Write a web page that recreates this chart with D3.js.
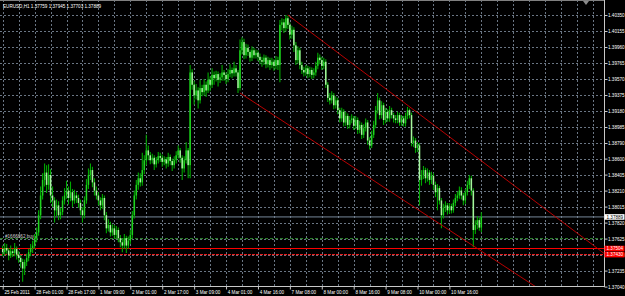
<!DOCTYPE html>
<html>
<head>
<meta charset="utf-8">
<script src="https://cdn.jsdelivr.net/npm/d3@7"></script>
<style>
  body { margin: 0; background: #000; }
  svg { display: block; }
  text { font-family: "Liberation Sans", Arial, sans-serif; }
</style>
</head>
<body>
<div id="chart"></div>
<script>
// EURUSD H1 bars, 25 Feb 2011 09:00 -> 10 Mar 2011
var opens = [
  1.3750,1.3746,1.3751,1.3748,1.3742,1.3747,1.3745,1.3750,1.3743,1.3739,
  1.3734,1.3726,1.3734,1.3739,1.3746,1.3751,1.3754,1.3763,1.3770,1.3791,
  1.3815,1.3834,1.3843,1.3828,1.3840,1.3815,1.3809,1.3797,1.3803,1.3791,
  1.3795,1.3809,1.3815,1.3821,1.3812,1.3819,1.3809,1.3815,1.3812,1.3806,
  1.3797,1.3791,1.3809,1.3828,1.3840,1.3846,1.3831,1.3821,1.3815,1.3809,
  1.3803,1.3812,1.3791,1.3775,1.3779,1.3770,1.3775,1.3767,1.3773,1.3763,
  1.3758,1.3754,1.3763,1.3754,1.3760,1.3767,1.3791,1.3815,1.3828,1.3836,
  1.3831,1.3846,1.3858,1.3870,1.3864,1.3858,1.3861,1.3853,1.3858,1.3863,
  1.3861,1.3856,1.3859,1.3854,1.3862,1.3857,1.3852,1.3858,1.3864,1.3870,
  1.3861,1.3848,1.3858,1.3870,1.3852,1.3965,1.3950,1.3937,1.3943,1.3931,
  1.3946,1.3941,1.3950,1.3943,1.3956,1.3950,1.3962,1.3958,1.3963,1.3956,
  1.3959,1.3965,1.3962,1.3957,1.3963,1.3968,1.3964,1.3970,1.3965,1.3946,
  1.3992,1.4002,1.3986,1.3995,1.3990,1.3983,1.3992,1.3986,1.3989,1.3984,
  1.3980,1.3978,1.3983,1.3975,1.3980,1.3974,1.3978,1.3973,1.3980,1.3974,
  1.4023,1.4026,1.4019,1.4031,1.4023,1.4011,1.4017,1.3998,1.3980,1.3992,
  1.3974,1.3968,1.3965,1.3970,1.3963,1.3968,1.3962,1.3965,1.3973,1.3983,
  1.3980,1.3973,1.3978,1.3950,1.3934,1.3931,1.3937,1.3925,1.3931,1.3919,
  1.3909,1.3917,1.3904,1.3912,1.3901,1.3907,1.3909,1.3900,1.3907,1.3895,
  1.3901,1.3889,1.3897,1.3904,1.3882,1.3876,1.3889,1.3901,1.3919,1.3931,
  1.3913,1.3925,1.3907,1.3917,1.3909,1.3919,1.3913,1.3909,1.3907,1.3913,
  1.3904,1.3909,1.3903,1.3912,1.3919,1.3913,1.3879,1.3882,1.3873,1.3876,
  1.3834,1.3840,1.3846,1.3836,1.3843,1.3834,1.3839,1.3828,1.3819,1.3824,
  1.3809,1.3791,1.3800,1.3803,1.3797,1.3802,1.3797,1.3806,1.3812,1.3815,
  1.3821,1.3815,1.3809,1.3819,1.3828,1.3836,1.3821,1.3773,1.3779,1.3785,
  1.37759
];
var highs = [
  1.3754,1.3757,1.3756,1.3751,1.3754,1.3750,1.3757,1.3753,1.3747,1.3742,
  1.3738,1.3737,1.3744,1.3750,1.3756,1.3760,1.3768,1.3776,1.3797,1.3826,
  1.3842,1.3854,1.3852,1.3853,1.3847,1.3826,1.3813,1.3810,1.3808,1.3800,
  1.3814,1.3824,1.3833,1.3826,1.3832,1.3823,1.3822,1.3819,1.3816,1.3810,
  1.3801,1.3814,1.3835,1.3848,1.3854,1.3850,1.3836,1.3826,1.3819,1.3813,
  1.3817,1.3815,1.3795,1.3786,1.3783,1.3780,1.3779,1.3778,1.3776,1.3767,
  1.3762,1.3768,1.3766,1.3765,1.3773,1.3796,1.3821,1.3834,1.3843,1.3842,
  1.3867,1.3864,1.3889,1.3876,1.3868,1.3866,1.3864,1.3862,1.3868,1.3867,
  1.3865,1.3863,1.3862,1.3867,1.3865,1.3860,1.3863,1.3869,1.3876,1.3873,
  1.3864,1.3863,1.3880,1.3873,1.3974,1.3969,1.3955,1.3951,1.3947,1.3956,
  1.3950,1.3957,1.3954,1.3965,1.3960,1.3970,1.3966,1.3967,1.3966,1.3964,
  1.3974,1.3968,1.3965,1.3969,1.3975,1.3971,1.3978,1.3974,1.3968,1.4005,
  1.4008,1.4006,1.4000,1.3999,1.3993,1.3997,1.3995,1.3993,1.3992,1.3988,
  1.3984,1.3987,1.3986,1.3984,1.3983,1.3983,1.3981,1.3985,1.3984,1.4029,
  1.4031,1.4030,1.4035,1.4034,1.4026,1.4022,1.4020,1.4002,1.3997,1.3995,
  1.3978,1.3972,1.3974,1.3973,1.3972,1.3971,1.3970,1.3978,1.3989,1.3987,
  1.3984,1.3983,1.3981,1.3953,1.3940,1.3942,1.3940,1.3936,1.3934,1.3922,
  1.3922,1.3920,1.3917,1.3915,1.3912,1.3914,1.3912,1.3912,1.3910,1.3906,
  1.3904,1.3902,1.3909,1.3907,1.3886,1.3894,1.3906,1.3924,1.3940,1.3934,
  1.3930,1.3928,1.3922,1.3920,1.3924,1.3922,1.3916,1.3913,1.3917,1.3916,
  1.3913,1.3912,1.3916,1.3923,1.3921,1.3916,1.3887,1.3885,1.3880,1.3879,
  1.3846,1.3851,1.3849,1.3848,1.3846,1.3844,1.3842,1.3832,1.3829,1.3827,
  1.3812,1.3805,1.3808,1.3806,1.3806,1.3805,1.3810,1.3817,1.3820,1.3826,
  1.3825,1.3818,1.3823,1.3833,1.3840,1.3839,1.3824,1.3785,1.3790,1.3788,
  1.37945
];
var lows = [
  1.3741,1.3742,1.3744,1.3736,1.3739,1.3740,1.3741,1.3737,1.3733,1.3727,
  1.3710,1.3718,1.3729,1.3735,1.3741,1.3745,1.3750,1.3758,1.3766,1.3786,
  1.3810,1.3826,1.3818,1.3822,1.3806,1.3801,1.3782,1.3790,1.3785,1.3786,
  1.3791,1.3804,1.3811,1.3804,1.3808,1.3801,1.3805,1.3806,1.3800,1.3791,
  1.3782,1.3787,1.3805,1.3823,1.3834,1.3825,1.3815,1.3810,1.3803,1.3797,
  1.3799,1.3785,1.3769,1.3771,1.3765,1.3766,1.3762,1.3763,1.3758,1.3752,
  1.3746,1.3750,1.3745,1.3750,1.3756,1.3763,1.3787,1.3810,1.3822,1.3826,
  1.3827,1.3841,1.3852,1.3858,1.3853,1.3854,1.3846,1.3849,1.3854,1.3856,
  1.3850,1.3852,1.3848,1.3850,1.3852,1.3845,1.3848,1.3854,1.3860,1.3855,
  1.3834,1.3843,1.3854,1.3836,1.3836,1.3944,1.3926,1.3932,1.3921,1.3927,
  1.3936,1.3937,1.3935,1.3940,1.3942,1.3946,1.3950,1.3954,1.3948,1.3952,
  1.3955,1.3955,1.3951,1.3953,1.3959,1.3958,1.3960,1.3960,1.3940,1.3943,
  1.3987,1.3981,1.3982,1.3985,1.3978,1.3979,1.3982,1.3982,1.3979,1.3975,
  1.3972,1.3974,1.3970,1.3971,1.3968,1.3970,1.3967,1.3969,1.3968,1.3953,
  1.4016,1.4013,1.4015,1.4018,1.4005,1.4006,1.3990,1.3974,1.3976,1.3969,
  1.3963,1.3960,1.3961,1.3958,1.3959,1.3957,1.3958,1.3961,1.3969,1.3975,
  1.3968,1.3969,1.3946,1.3929,1.3926,1.3927,1.3920,1.3921,1.3914,1.3904,
  1.3905,1.3899,1.3900,1.3896,1.3897,1.3903,1.3895,1.3896,1.3890,1.3891,
  1.3884,1.3885,1.3893,1.3877,1.3871,1.3873,1.3885,1.3897,1.3915,1.3908,
  1.3909,1.3901,1.3903,1.3905,1.3905,1.3909,1.3904,1.3903,1.3903,1.3900,
  1.3900,1.3899,1.3899,1.3908,1.3909,1.3875,1.3874,1.3867,1.3868,1.3803,
  1.3827,1.3835,1.3830,1.3832,1.3828,1.3829,1.3822,1.3813,1.3797,1.3804,
  1.3775,1.3787,1.3795,1.3792,1.3793,1.3793,1.3794,1.3802,1.3808,1.3811,
  1.3810,1.3803,1.3805,1.3815,1.3823,1.3815,1.3752,1.3768,1.3774,1.3772,
  1.37703
];
var closes = [
  1.3746,1.3751,1.3748,1.3742,1.3747,1.3745,1.3750,1.3743,1.3739,1.3734,
  1.3726,1.3734,1.3739,1.3746,1.3751,1.3754,1.3763,1.3770,1.3791,1.3815,
  1.3834,1.3843,1.3828,1.3840,1.3815,1.3809,1.3797,1.3803,1.3791,1.3795,
  1.3809,1.3815,1.3821,1.3812,1.3819,1.3809,1.3815,1.3812,1.3806,1.3797,
  1.3791,1.3809,1.3828,1.3840,1.3846,1.3831,1.3821,1.3815,1.3809,1.3803,
  1.3812,1.3791,1.3775,1.3779,1.3770,1.3775,1.3767,1.3773,1.3763,1.3758,
  1.3754,1.3763,1.3754,1.3760,1.3767,1.3791,1.3815,1.3828,1.3836,1.3831,
  1.3846,1.3858,1.3870,1.3864,1.3858,1.3861,1.3853,1.3858,1.3863,1.3861,
  1.3856,1.3859,1.3854,1.3862,1.3857,1.3852,1.3858,1.3864,1.3870,1.3861,
  1.3848,1.3858,1.3870,1.3852,1.3965,1.3950,1.3937,1.3943,1.3931,1.3946,
  1.3941,1.3950,1.3943,1.3956,1.3950,1.3962,1.3958,1.3963,1.3956,1.3959,
  1.3965,1.3962,1.3957,1.3963,1.3968,1.3964,1.3970,1.3965,1.3946,1.3992,
  1.4002,1.3986,1.3995,1.3990,1.3983,1.3992,1.3986,1.3989,1.3984,1.3980,
  1.3978,1.3983,1.3975,1.3980,1.3974,1.3978,1.3973,1.3980,1.3974,1.4023,
  1.4026,1.4019,1.4031,1.4023,1.4011,1.4017,1.3998,1.3980,1.3992,1.3974,
  1.3968,1.3965,1.3970,1.3963,1.3968,1.3962,1.3965,1.3973,1.3983,1.3980,
  1.3973,1.3978,1.3950,1.3934,1.3931,1.3937,1.3925,1.3931,1.3919,1.3909,
  1.3917,1.3904,1.3912,1.3901,1.3907,1.3909,1.3900,1.3907,1.3895,1.3901,
  1.3889,1.3897,1.3904,1.3882,1.3876,1.3889,1.3901,1.3919,1.3931,1.3913,
  1.3925,1.3907,1.3917,1.3909,1.3919,1.3913,1.3909,1.3907,1.3913,1.3904,
  1.3909,1.3903,1.3912,1.3919,1.3913,1.3879,1.3882,1.3873,1.3876,1.3834,
  1.3840,1.3846,1.3836,1.3843,1.3834,1.3839,1.3828,1.3819,1.3824,1.3809,
  1.3791,1.3800,1.3803,1.3797,1.3802,1.3797,1.3806,1.3812,1.3815,1.3821,
  1.3815,1.3809,1.3819,1.3828,1.3836,1.3821,1.3773,1.3779,1.3785,1.37759,
  1.37889
];

// price scale labels (right) and time labels (bottom, every 16 bars)
var priceTicks = [1.40350,1.40155,1.39960,1.39765,1.39570,1.39375,1.39180,1.38985,1.38790,
                  1.38600,1.38405,1.38210,1.38015,1.37820,1.37625,1.37430,1.37235,1.37040];
var timeLabels = ["25 Feb 2011","28 Feb 01:00","28 Feb 17:00","1 Mar 09:00","2 Mar 01:00",
                  "2 Mar 17:00","3 Mar 09:00","4 Mar 01:00","4 Mar 16:00","7 Mar 08:00",
                  "8 Mar 00:00","8 Mar 16:00","9 Mar 08:00","10 Mar 00:00","10 Mar 16:00"];
var timeBars = [0,16,32,48,64,80,96,112,128,144,160,176,192,208,224];

// objects on the chart
var symbol = "EURUSD,H1";
var orderTicket = "#1666862 buy";
var orderPrice = 1.37625;
var stopLevels = [1.37504, 1.37430];
var upperChannel = [[143, 1.40350], [223, 1.38884]];
var lowerChannel = [[119, 1.39399], [220, 1.37791]];

var W = 625, H = 296,
    plotRight = 604, plotBottom = 286,
    fontSize = 4.6;

var x = d3.scaleLinear().domain([0, 296]).range([2.7, 593]);
var y = d3.scaleLinear().domain([1.37040, 1.40350]).range([286.6, 15]);
var fmt = d3.format(".5f");

var svg = d3.select("#chart").append("svg")
    .attr("width", W)
    .attr("height", H)
    .style("background", "#000");

svg.append("clipPath").attr("id", "plot")
  .append("rect")
    .attr("x", 0).attr("y", 0)
    .attr("width", plotRight).attr("height", plotBottom);

var plot = svg.append("g").attr("clip-path", "url(#plot)");

// dotted grid
plot.selectAll(".hgrid")
    .data(priceTicks)
  .enter().append("line")
    .attr("x1", 0).attr("x2", plotRight)
    .attr("y1", function(d) { return Math.round(y(d)) + 0.5; })
    .attr("y2", function(d) { return Math.round(y(d)) + 0.5; })
    .attr("stroke", "#6a7684")
    .attr("stroke-dasharray", "2,2");

plot.selectAll(".vgrid")
    .data(d3.range(0, 297, 8))
  .enter().append("line")
    .attr("x1", function(d) { return Math.round(x(d)) + 0.5; })
    .attr("x2", function(d) { return Math.round(x(d)) + 0.5; })
    .attr("y1", 0).attr("y2", plotBottom)
    .attr("stroke", "#6a7684")
    .attr("stroke-dasharray", "2,2");

// order / stop levels
plot.append("line")
    .attr("x1", 0).attr("x2", plotRight)
    .attr("y1", y(orderPrice)).attr("y2", y(orderPrice))
    .attr("stroke", "#2f8a2f")
    .attr("stroke-dasharray", "3,2");

plot.append("line")
    .attr("x1", 0).attr("x2", plotRight)
    .attr("y1", y(stopLevels[0])).attr("y2", y(stopLevels[0]))
    .attr("stroke", "#ff0000");

plot.append("line")
    .attr("x1", 0).attr("x2", plotRight)
    .attr("y1", y(stopLevels[1])).attr("y2", y(stopLevels[1]))
    .attr("stroke", "#ff2020")
    .attr("stroke-dasharray", "3,1");

plot.append("text")
    .attr("x", 5)
    .attr("y", y(orderPrice) - 0.8)
    .attr("font-size", fontSize)
    .attr("fill", "#d0d0d0")
    .text(orderTicket);

// current bid line
var last = closes.length - 1;
plot.append("line")
    .attr("x1", 0).attr("x2", plotRight)
    .attr("y1", y(closes[last])).attr("y2", y(closes[last]))
    .attr("stroke", "#778899");

// candles
var bars = plot.selectAll(".bar")
    .data(closes)
  .enter().append("g")
    .attr("class", "bar");

bars.append("line")
    .attr("x1", function(d, i) { return x(i); })
    .attr("x2", function(d, i) { return x(i); })
    .attr("y1", function(d, i) { return y(highs[i]); })
    .attr("y2", function(d, i) { return y(lows[i]); })
    .attr("stroke", "#00a800")
    .attr("stroke-width", 1.1);

bars.append("rect")
    .attr("x", function(d, i) { return x(i) - 0.75; })
    .attr("width", 1.5)
    .attr("y", function(d, i) { return y(Math.max(opens[i], d)); })
    .attr("height", function(d, i) { return Math.max(1, Math.abs(y(opens[i]) - y(d))); })
    .attr("fill", function(d, i) { return d >= opens[i] ? "#1fd21f" : "#a6f59e"; });

// channel trend lines, drawn as rays to the right
function ray(pts) {
  var b0 = pts[0][0], p0 = pts[0][1], b1 = pts[1][0], p1 = pts[1][1];
  var bEnd = 320;
  return [[x(b0), y(p0)], [x(bEnd), y(p0 + (p1 - p0) * (bEnd - b0) / (b1 - b0))]];
}
[upperChannel, lowerChannel].forEach(function(c) {
  var r = ray(c);
  plot.append("line")
      .attr("x1", r[0][0]).attr("y1", r[0][1])
      .attr("x2", r[1][0]).attr("y2", r[1][1])
      .attr("stroke", "#b80000")
      .attr("stroke-width", 1);
});

// frame
svg.append("line")
    .attr("x1", 0).attr("x2", plotRight)
    .attr("y1", 0.5).attr("y2", 0.5)
    .attr("stroke", "#808080");
svg.append("line")
    .attr("x1", plotRight + 0.5).attr("x2", plotRight + 0.5)
    .attr("y1", 0).attr("y2", plotBottom + 1)
    .attr("stroke", "#c8c8c8");
svg.append("line")
    .attr("x1", 0).attr("x2", plotRight + 1)
    .attr("y1", plotBottom + 0.5).attr("y2", plotBottom + 0.5)
    .attr("stroke", "#c8c8c8");

// chart shift marker
svg.append("path")
    .attr("d", "M583,1 L589,1 L586,5 Z")
    .attr("fill", "#8a8a8a");

// price axis
var yAxis = d3.axisRight(y)
    .tickValues(priceTicks)
    .tickFormat(fmt)
    .tickSize(3)
    .tickPadding(0.5);

var gy = svg.append("g")
    .attr("transform", "translate(" + (plotRight + 0.5) + ",0)")
    .call(yAxis);
gy.select(".domain").remove();
gy.selectAll("line").attr("stroke", "#c8c8c8");
gy.selectAll("text")
    .attr("font-size", fontSize)
    .attr("font-family", "Liberation Sans, Arial, sans-serif")
    .attr("fill", "#ffffff");

// time axis
var xAxis = d3.axisBottom(x)
    .tickValues(timeBars)
    .tickFormat(function(d, i) { return timeLabels[i]; })
    .tickSize(3)
    .tickPadding(1.6);

var gx = svg.append("g")
    .attr("transform", "translate(0," + (plotBottom + 0.5) + ")")
    .call(xAxis);
gx.select(".domain").remove();
gx.selectAll("line").attr("stroke", "#c8c8c8");
gx.selectAll("text")
    .attr("font-size", fontSize)
    .attr("font-family", "Liberation Sans, Arial, sans-serif")
    .attr("fill", "#ffffff")
    .attr("text-anchor", "start")
    .attr("dx", 1.2);

// price tags on the axis
function tag(price, bg, fg) {
  var g = svg.append("g");
  g.append("rect")
      .attr("x", plotRight + 0.5)
      .attr("y", y(price) - 2.8)
      .attr("width", 20)
      .attr("height", 5.6)
      .attr("fill", bg);
  g.append("text")
      .attr("x", plotRight + 2.5)
      .attr("y", y(price))
      .attr("dy", "0.35em")
      .attr("font-size", fontSize)
      .attr("fill", fg)
      .text(fmt(price));
}
tag(closes[last], "#ffffff", "#000000");
tag(stopLevels[0], "#ff0000", "#ffffff");
tag(stopLevels[1], "#ff0000", "#ffffff");

// symbol header with last bar OHLC
svg.append("text")
    .attr("x", 3)
    .attr("y", 8)
    .attr("font-size", fontSize)
    .attr("fill", "#ffffff")
    .text(symbol + "  " + [opens[last], highs[last], lows[last], closes[last]].map(fmt).join(" "));
</script>
</body>
</html>
